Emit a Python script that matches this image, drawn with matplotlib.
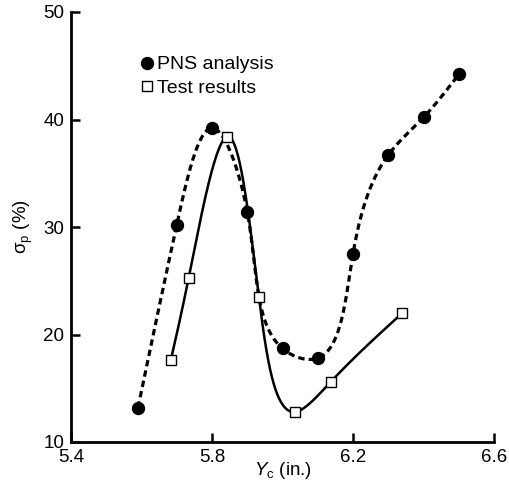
import numpy as np
import matplotlib
matplotlib.use("Agg")
import matplotlib.pyplot as plt

plt.rcParams['font.family'] = ['Liberation Sans', 'DejaVu Sans']
plt.rcParams['mathtext.fontset'] = 'custom'
plt.rcParams['mathtext.rm'] = 'Liberation Sans'
plt.rcParams['mathtext.it'] = 'Liberation Sans:italic'

# Data
pns_x = [5.59, 5.70, 5.80, 5.90, 6.00, 6.10, 6.20, 6.30, 6.40, 6.50]
pns_y = [13.2, 30.2, 39.2, 31.4, 18.7, 17.8, 27.5, 36.7, 40.2, 44.2]
test_x = [5.683, 5.734, 5.842, 5.933, 6.035, 6.137, 6.34]
test_y = [17.6, 25.3, 38.4, 23.5, 12.8, 15.6, 22.0]

xticks = [5.4, 5.8, 6.2, 6.6]
yticks = [10, 20, 30, 40, 50]
xlim = (5.4, 6.6)
ylim = (10, 50)


def natural_spline(t, y, tt):
    t = np.asarray(t, float); y = np.asarray(y, float)
    n = len(t)
    h = np.diff(t)
    A = np.zeros((n, n)); b = np.zeros(n)
    A[0, 0] = 1; A[-1, -1] = 1
    for i in range(1, n - 1):
        A[i, i - 1] = h[i - 1]
        A[i, i] = 2 * (h[i - 1] + h[i])
        A[i, i + 1] = h[i]
        b[i] = 3 * ((y[i + 1] - y[i]) / h[i] - (y[i] - y[i - 1]) / h[i - 1])
    c = np.linalg.solve(A, b)
    out = np.empty_like(tt)
    for k, x in enumerate(tt):
        i = min(max(np.searchsorted(t, x) - 1, 0), n - 2)
        dx = x - t[i]
        bi = (y[i + 1] - y[i]) / h[i] - h[i] * (2 * c[i] + c[i + 1]) / 3
        di = (c[i + 1] - c[i]) / (3 * h[i])
        out[k] = y[i] + bi * dx + c[i] * dx ** 2 + di * dx ** 3
    return out


def smooth_curve(xs, ys, alpha=0.75, n=500):
    # parametric spline through the points, in screen-like units
    u = (np.asarray(xs) - xlim[0]) / (xlim[1] - xlim[0]) * 423
    v = (np.asarray(ys) - ylim[0]) / (ylim[1] - ylim[0]) * 430
    d = np.sqrt(np.diff(u) ** 2 + np.diff(v) ** 2) ** alpha
    t = np.concatenate([[0], np.cumsum(d)])
    tt = np.linspace(0, t[-1], n)
    uu = natural_spline(t, u, tt)
    vv = natural_spline(t, v, tt)
    return (xlim[0] + uu / 423 * (xlim[1] - xlim[0]),
            ylim[0] + vv / 430 * (ylim[1] - ylim[0]))


fig = plt.figure(figsize=(5.09, 4.92), dpi=100)
ax = fig.add_axes([71 / 509, 1 - 442 / 492, 423 / 509, 430 / 492])

cx, cy = smooth_curve(pns_x, pns_y)
ax.plot(cx, cy, color='black', lw=2.3, linestyle=(0, (2.0, 1.3)), zorder=2)
sx, sy = smooth_curve(test_x, test_y)
ax.plot(sx, sy, color='black', lw=1.8, zorder=2)

ax.plot(pns_x, pns_y, 'o', ls='none', color='black', ms=8.6, zorder=3,
        label='PNS analysis')
ax.plot(test_x, test_y, 's', ls='none', mfc='white', mec='black', mew=1.0,
        ms=7.6, zorder=4, label='Test results')

ax.set_xlim(*xlim)
ax.set_ylim(*ylim)
ax.set_xticks(xticks)
ax.set_xticklabels([f'{v:.1f}' for v in xticks])
ax.set_yticks(yticks)

for s in ['top', 'right']:
    ax.spines[s].set_visible(False)
for s in ['left', 'bottom']:
    ax.spines[s].set_linewidth(2.0)
ax.tick_params(direction='in', length=6.5, width=1.8, labelsize=13.5, pad=5)

ax.set_xlabel(r'$Y_\mathrm{c}$ (in.)', fontsize=13.5, labelpad=-4)
ax.set_ylabel('σ$_\\mathrm{p}$ (%)', fontsize=13.5, labelpad=6)

ax.legend(loc='upper left', bbox_to_anchor=(0.166, 0.898), frameon=False,
          fontsize=14, handlelength=0.6, handletextpad=0.2,
          borderpad=0, borderaxespad=0, labelspacing=0.3)

fig.savefig('out.png', dpi=100)
